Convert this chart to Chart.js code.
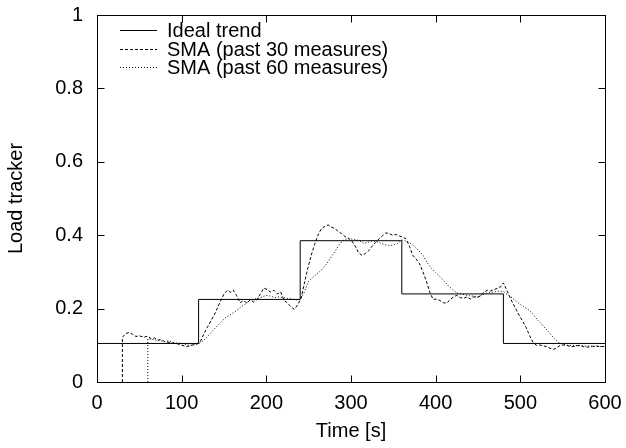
<!DOCTYPE html>
<html>
<head>
<meta charset="utf-8">
<script src="https://cdn.jsdelivr.net/npm/chart.js@4/dist/chart.umd.min.js"></script>
<style>
  html, body { margin: 0; padding: 0; background: #fff; }
  #wrap { width: 626px; height: 448px; }
</style>
</head>
<body>
<div id="wrap"><canvas id="chart"></canvas></div>
<script>
// ideal load (step function)
const idealTimes = [0, 120, 240, 360, 480, 600];
const idealValues = [0.105, 0.225, 0.385, 0.24, 0.105, 0.105];

// simple moving average over 30 measures
const sma30Times = [30, 30, 34, 38, 42, 46, 50, 55, 60, 64, 68, 72, 76, 80, 85, 90, 95, 100, 105, 110, 114, 118,
  122, 126, 130, 135, 140, 145, 150, 154, 158, 161, 165, 169, 173, 177, 181, 185, 189, 193, 197, 201, 205, 209,
  213, 217, 221, 225, 229, 233, 237, 241, 245, 249, 253, 257, 261, 265, 269, 273, 277, 281, 285, 289, 293, 297,
  301, 305, 309, 313, 317, 321, 325, 329, 333, 337, 341, 345, 349, 353, 357, 361, 365, 369, 373, 377, 381, 385,
  389, 393, 397, 401, 405, 409, 413, 417, 421, 425, 429, 433, 437, 441, 445, 449, 453, 457, 461, 465, 469, 473,
  477, 480, 483, 487, 491, 495, 499, 503, 507, 511, 515, 519, 523, 527, 531, 535, 539, 543, 547, 551, 555, 560,
  565, 570, 575, 580, 585, 590, 595, 600];
const sma30Values = [0, 0.122, 0.132, 0.135, 0.13, 0.124, 0.126, 0.122, 0.125, 0.118, 0.12, 0.114, 0.116, 0.11,
  0.108, 0.106, 0.104, 0.1, 0.097, 0.098, 0.102, 0.104,
  0.11, 0.13, 0.148, 0.168, 0.19, 0.216, 0.24, 0.25, 0.244, 0.25, 0.235, 0.216, 0.222, 0.215, 0.224, 0.218, 0.225,
  0.24, 0.256, 0.252, 0.245, 0.25,
  0.24, 0.245, 0.222, 0.215, 0.205, 0.198, 0.21, 0.228, 0.27, 0.31, 0.345, 0.375, 0.4, 0.418, 0.424, 0.428, 0.422,
  0.418, 0.41, 0.404, 0.396, 0.392,
  0.384, 0.37, 0.352, 0.345, 0.35, 0.358, 0.37, 0.38, 0.39, 0.398, 0.406, 0.405, 0.4, 0.402, 0.398, 0.395, 0.39,
  0.37, 0.345, 0.335, 0.322, 0.3,
  0.275, 0.245, 0.225, 0.226, 0.222, 0.216, 0.215, 0.224, 0.232, 0.236, 0.23, 0.228, 0.232, 0.226, 0.232, 0.23,
  0.235, 0.245, 0.25, 0.248, 0.252, 0.255,
  0.26, 0.27, 0.255, 0.235, 0.215, 0.198, 0.18, 0.165, 0.148, 0.126, 0.108, 0.1, 0.101, 0.098, 0.097, 0.092, 0.089,
  0.093, 0.1, 0.101, 0.1, 0.096,
  0.098, 0.1, 0.096, 0.095, 0.097, 0.098, 0.096, 0.097];

// simple moving average over 60 measures
const sma60Times = [60, 60, 65, 70, 75, 80, 85, 90, 95, 100, 105, 110, 115, 120, 125, 130, 135, 140, 145, 150,
  155, 160, 165, 170, 175, 180, 185, 190, 195, 200, 205, 210, 215, 220, 225, 230, 235, 240, 245, 250, 255, 260,
  265, 270, 275, 280, 285, 290, 295, 300, 305, 310, 315, 320, 325, 330, 335, 340, 345, 350, 355, 360, 365, 370,
  375, 380, 385, 390, 395, 400, 405, 410, 415, 420, 425, 430, 435, 440, 445, 450, 455, 460, 465, 470, 475, 480,
  485, 490, 495, 500, 505, 510, 515, 520, 525, 530, 535, 540, 545, 550, 555, 560, 570, 580, 590, 600];
const sma60Values = [0, 0.118, 0.116, 0.114, 0.112, 0.11, 0.112, 0.108, 0.106, 0.105, 0.102, 0.1, 0.101, 0.104,
  0.112, 0.122, 0.135, 0.148, 0.16, 0.172,
  0.18, 0.187, 0.195, 0.205, 0.212, 0.222, 0.225, 0.228, 0.232, 0.236, 0.234, 0.23, 0.232, 0.23, 0.228, 0.226,
  0.224, 0.225, 0.245, 0.275, 0.285, 0.295,
  0.305, 0.318, 0.335, 0.352, 0.37, 0.385, 0.39, 0.39, 0.388, 0.385, 0.378, 0.38, 0.385, 0.383, 0.378, 0.374,
  0.372, 0.373, 0.378, 0.387, 0.384, 0.378,
  0.37, 0.358, 0.345, 0.325, 0.31, 0.298, 0.287, 0.275, 0.262, 0.252, 0.243, 0.24, 0.237, 0.235, 0.234, 0.232,
  0.237, 0.242, 0.244, 0.246, 0.248, 0.246,
  0.238, 0.23, 0.22, 0.212, 0.204, 0.196, 0.185, 0.17, 0.158, 0.145, 0.133, 0.118, 0.108, 0.103, 0.1, 0.1, 0.099,
  0.098, 0.097, 0.097];

const xTicks = [0, 100, 200, 300, 400, 500, 600];
const yTicks = [0, 0.2, 0.4, 0.6, 0.8, 1];

const FONT = "'Liberation Sans', Arial, Helvetica, sans-serif";

function toPoints(xs, ys) {
  return xs.map((x, i) => ({ x: x, y: ys[i] }));
}

// gnuplot style frame: box + inward ticks on all four sides
const framePlugin = {
  id: "frame",
  afterDatasetsDraw(chart) {
    const { ctx, chartArea: a, scales } = chart;
    const L = Math.round(a.left) + 0.5, R = Math.round(a.right) + 0.5;
    const T = Math.round(a.top) + 0.5, B = Math.round(a.bottom) + 0.5;
    const len = 7;
    ctx.save();
    ctx.strokeStyle = "#000";
    ctx.lineWidth = 1;
    ctx.setLineDash([]);
    ctx.strokeRect(L, T, R - L, B - T);
    ctx.beginPath();
    xTicks.forEach(v => {
      const px = Math.round(scales.x.getPixelForValue(v)) + 0.5;
      ctx.moveTo(px, B); ctx.lineTo(px, B - len);
      ctx.moveTo(px, T); ctx.lineTo(px, T + len);
    });
    yTicks.forEach(v => {
      const py = Math.round(scales.y.getPixelForValue(v)) + 0.5;
      ctx.moveTo(L, py); ctx.lineTo(L + len, py);
      ctx.moveTo(R, py); ctx.lineTo(R - len, py);
    });
    ctx.stroke();

    // legend inside the plot, sample line on the left
    ctx.font = "20px " + FONT;
    ctx.fillStyle = "#000";
    ctx.textBaseline = "middle";
    ctx.textAlign = "left";
    chart.data.datasets.forEach((ds, i) => {
      const y = Math.round(a.top + 15 + i * 18.7) + 0.5;
      ctx.beginPath();
      ctx.setLineDash(ds.borderDash || []);
      ctx.moveTo(a.left + 23, y);
      ctx.lineTo(a.left + 60, y);
      ctx.stroke();
      ctx.fillText(ds.label, a.left + 70, y + 1);
    });
    ctx.restore();
  }
};

new Chart(document.getElementById("chart"), {
  type: "line",
  data: {
    datasets: [
      {
        label: "Ideal trend",
        data: toPoints(idealTimes, idealValues),
        stepped: "before",
        borderColor: "#000",
        borderWidth: 1,
        pointRadius: 0
      },
      {
        label: "SMA (past 30 measures)",
        data: toPoints(sma30Times, sma30Values),
        borderColor: "#000",
        borderWidth: 1,
        borderDash: [3, 2],
        pointRadius: 0
      },
      {
        label: "SMA (past 60 measures)",
        data: toPoints(sma60Times, sma60Values),
        borderColor: "#000",
        borderWidth: 1,
        borderDash: [1, 2],
        pointRadius: 0
      }
    ]
  },
  options: {
    responsive: true,
    maintainAspectRatio: false,
    animation: false,
    layout: { padding: { top: 15, right: 21, left: 0, bottom: 0 } },
    plugins: {
      legend: { display: false },
      tooltip: { enabled: false }
    },
    scales: {
      x: {
        type: "linear",
        min: 0,
        max: 600,
        afterFit: s => { s.height = 66; s.paddingLeft = 0; s.paddingRight = 0; },
        afterBuildTicks: s => { s.ticks = xTicks.map(v => ({ value: v })); },
        grid: { display: false, drawTicks: false },
        border: { display: false },
        ticks: { color: "#000", font: { family: FONT, size: 20 }, padding: 9, maxRotation: 0 },
        title: { display: true, text: "Time [s]", color: "#000", font: { family: FONT, size: 20 }, padding: { bottom: 5, top: 0 } }
      },
      y: {
        min: 0,
        max: 1,
        afterFit: s => { s.width = 97; s.paddingTop = 0; s.paddingBottom = 0; },
        afterBuildTicks: s => { s.ticks = yTicks.map(v => ({ value: v })); },
        grid: { display: false, drawTicks: false },
        border: { display: false },
        ticks: { color: "#000", font: { family: FONT, size: 20 }, padding: 14, callback: v => String(+v.toFixed(1)) },
        title: { display: true, text: "Load tracker", color: "#000", font: { family: FONT, size: 20 }, padding: { top: 4, bottom: 0 } }
      }
    }
  },
  plugins: [framePlugin]
});
</script>
</body>
</html>
